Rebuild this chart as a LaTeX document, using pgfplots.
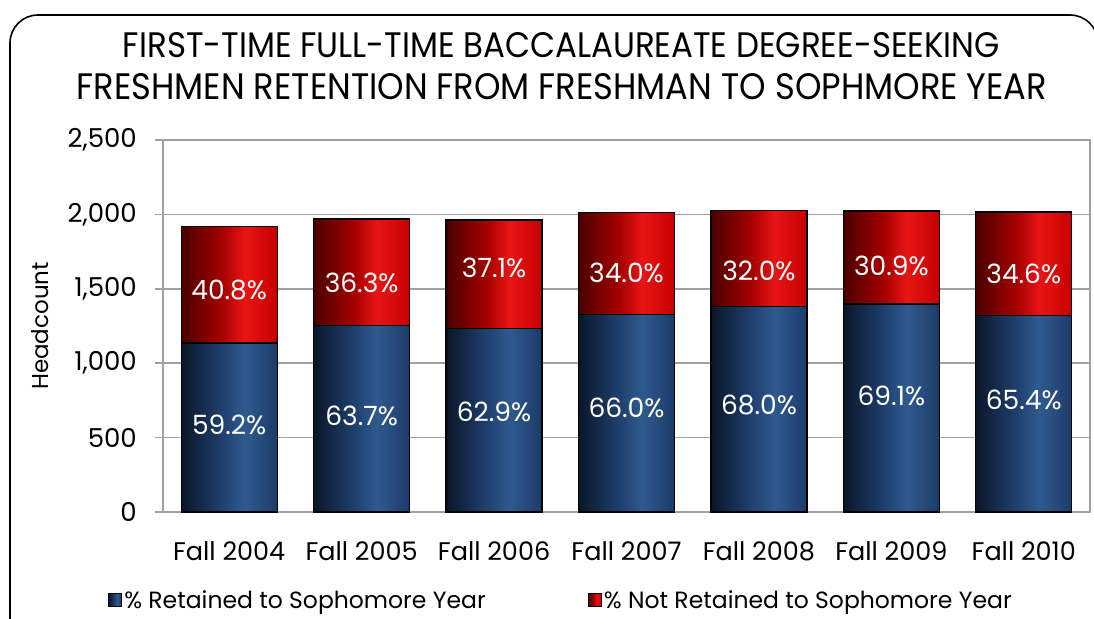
\documentclass[border=0pt]{standalone}
\usepackage{pgfplots}
\pgfplotsset{compat=1.18}
\usepackage{fontspec}
\setmainfont{Poppins}
\usepackage{graphicx}

\definecolor{bA}{HTML}{0A1628}
\definecolor{bB}{HTML}{1F3F6E}
\definecolor{bC}{HTML}{2F5A8F}
\definecolor{bD}{HTML}{1C3B68}
\definecolor{rA}{HTML}{4A0000}
\definecolor{rB}{HTML}{A50000}
\definecolor{rC}{HTML}{E81515}
\definecolor{rD}{HTML}{C60000}
\definecolor{gridgray}{HTML}{A0A0A0}

\pgfdeclarehorizontalshading{blueshade}{100bp}{color(0bp)=(bA); color(25bp)=(bA); color(46bp)=(bB); color(58bp)=(bC); color(75bp)=(bD); color(100bp)=(bD)}
\pgfdeclarehorizontalshading{redshade}{100bp}{color(0bp)=(rA); color(25bp)=(rA); color(46bp)=(rB); color(58bp)=(rC); color(75bp)=(rD); color(100bp)=(rD)}

\pgfplotsset{
  sqlegend/.style={legend image code/.code={\draw[##1] (0pt,-6.5pt) rectangle (13pt,6.5pt);}},
  bluebar/.style={ybar, bar width=0.725, bar shift=0pt, draw=black, line width=1.2pt, shading=blueshade, sqlegend},
  redbar/.style={ybar, bar width=0.725, bar shift=0pt, draw=black, line width=1.2pt, shading=redshade, sqlegend},
}

\begin{document}
\begin{tikzpicture}
\useasboundingbox (0,0) rectangle (1094pt,618pt);
\draw[line width=1.6pt, rounded corners=28pt] (10pt,-40pt) rectangle (1098pt,603pt);
\node[anchor=base, inner sep=0pt] at (561.5pt,560pt) {\resizebox{877pt}{25pt}{FIRST-TIME FULL-TIME BACCALAUREATE DEGREE-SEEKING}};
\node[anchor=base, inner sep=0pt] at (562pt,518pt) {\resizebox{970pt}{26pt}{FRESHMEN RETENTION FROM FRESHMAN TO SOPHMORE YEAR}};

\begin{axis}[
  at={(163pt,106pt)}, anchor=south west,
  width=927pt, height=372pt, scale only axis,
  xmin=-0.5, xmax=6.5, ymin=0, ymax=2500,
  xtick={0,1,2,3,4,5,6},
  xticklabels={Fall 2004,Fall 2005,Fall 2006,Fall 2007,Fall 2008,Fall 2009,Fall 2010},
  ytick={0,500,1000,1500,2000,2500},
  ymajorgrids, grid style={gridgray, line width=1.5pt},
  axis line style={gridgray, line width=1.5pt},
  ytick pos=left, tick align=outside, major tick length=8pt,
  ytick style={gridgray, line width=1.5pt},
  xtick style={draw=none},
  /pgf/number format/.cd, 1000 sep={,}, assume math mode=true,
  /pgfplots/.cd,
  yticklabel style={font=\fontsize{26}{30}\selectfont, anchor=east, inner sep=0pt, xshift=-18pt},
  xticklabel style={font=\fontsize{25.5}{30}\selectfont, anchor=north, inner sep=0pt, yshift=-21pt},
  ylabel={Headcount},
  ylabel style={font=\fontsize{23}{28}\selectfont, at={(axis description cs:-0.1327,0.5)}, anchor=center},
  legend style={at={(0.4293,-0.2366)}, anchor=center, draw=none, fill=none,
    font=\fontsize{23.5}{28}\selectfont, inner sep=0pt,
    nodes={inner sep=2pt, xshift=3pt},
    /tikz/every even column/.append style={column sep=100pt}},
  legend columns=2, reverse legend,
]
% red bars: full headcount (retained + not retained)
\addplot[redbar] coordinates {(0,1918)};
\addlegendentry{\% Not Retained to Sophomore Year}
\addplot[redbar, forget plot] coordinates {(1,1969)};
\addplot[redbar, forget plot] coordinates {(2,1962)};
\addplot[redbar, forget plot] coordinates {(3,2011)};
\addplot[redbar, forget plot] coordinates {(4,2028)};
\addplot[redbar, forget plot] coordinates {(5,2023)};
\addplot[redbar, forget plot] coordinates {(6,2016)};
% blue bars: retained
\addplot[bluebar] coordinates {(0,1136)};
\addlegendentry{\% Retained to Sophomore Year}
\addplot[bluebar, forget plot] coordinates {(1,1254)};
\addplot[bluebar, forget plot] coordinates {(2,1234)};
\addplot[bluebar, forget plot] coordinates {(3,1327)};
\addplot[bluebar, forget plot] coordinates {(4,1379)};
\addplot[bluebar, forget plot] coordinates {(5,1398)};
\addplot[bluebar, forget plot] coordinates {(6,1318)};
\end{axis}

\begin{axis}[
  at={(163pt,106pt)}, anchor=south west,
  width=927pt, height=372pt, scale only axis,
  xmin=-0.5, xmax=6.5, ymin=0, ymax=2500,
  hide axis,
  nodes near coords, point meta=explicit symbolic,
  every node near coord/.style={anchor=center, text=white, font=\fontsize{26.5}{30}\selectfont, inner sep=0pt},
]
\addplot[draw=none, mark=none] table[x=x, y=y, meta=lab] {
x y lab
0 585 59.2\%
1 645 63.7\%
2 672 62.9\%
3 699 66.0\%
4 719 68.0\%
5 780 69.1\%
6 753 65.4\%
0 1492 40.8\%
1 1539 36.3\%
2 1640 37.1\%
3 1606 34.0\%
4 1620 32.0\%
5 1653 30.9\%
6 1599 34.6\%
};
\end{axis}
\end{tikzpicture}
\end{document}
